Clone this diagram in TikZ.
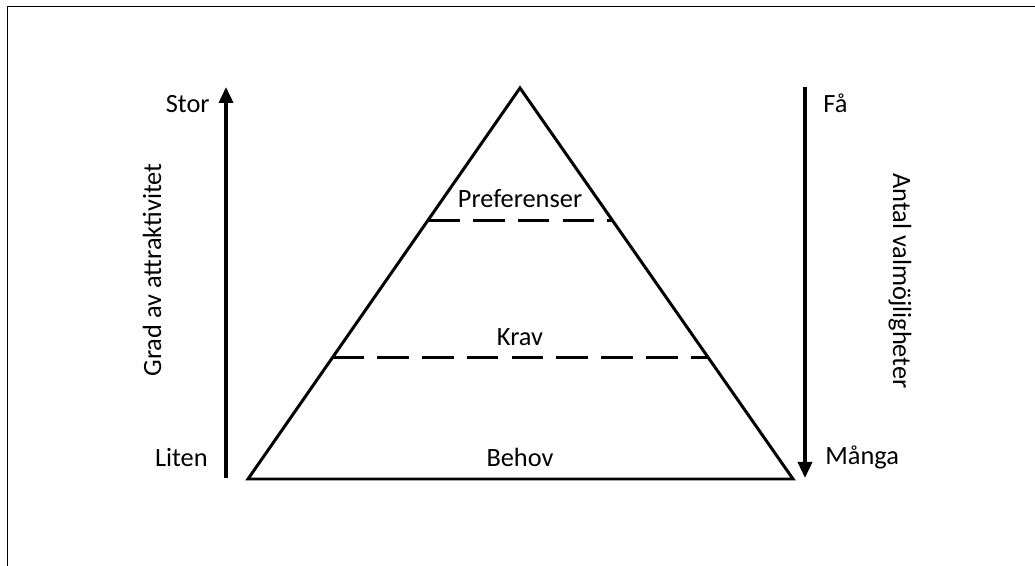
\documentclass[tikz,border=0pt]{standalone}
\usepackage{fontspec}
\setmainfont{Carlito}
\usetikzlibrary{arrows.meta,calc}
\begin{document}
\begin{tikzpicture}[
  font=\fontsize{15}{18}\selectfont,
  axisarr/.style={-{Triangle[length=0.32cm,width=0.28cm]}, line width=2pt},
  edge/.style={line width=1.7pt},
  level/.style={line width=1.7pt, dash pattern=on 18pt off 7.5pt},
  lbl/.style={inner sep=0pt},
]
\useasboundingbox (0,0) rectangle (20.7,11.32);

%% ── frame (cut off at right and bottom) ──────────────────────────
\draw[line width=1.1pt] (0.15,-0.5) -- (0.15,11.19) -- (21,11.19);

%% ═══ pyramid ════════════════════════════════════════════════════
\coordinate (apex) at (10.4,9.56);
\coordinate (bl)   at (4.96,1.74);
\coordinate (br)   at (15.86,1.74);
\draw[edge] (apex) -- (br) -- (bl) -- cycle;

% level borders
\draw[level] ($(apex)!0.338!(bl)$) -- ($(apex)!0.338!(br)$);
\draw[level] ($(apex)!0.69!(bl)$)  -- ($(apex)!0.69!(br)$);

\node[lbl] (pref)  at (10.4,7.34) {Preferenser};
\node[lbl] (krav)  at (10.4,4.58) {Krav};
\node[lbl] (behov) at (10.4,2.18) {Behov};

%% ═══ LEFT axis ══════════════════════════════════════════════════
\coordinate (ltop) at (4.52,9.58);
\coordinate (lbot) at (4.52,1.76);
\draw[axisarr] (lbot) -- (ltop);
\node[lbl, anchor=east] (stor)  at (4.2,9.24)  {Stor};
\node[lbl, anchor=east] (liten) at (4.16,2.16) {Liten};
\node[lbl, rotate=90]   (grad)  at (3.04,5.92) {Grad av attraktivitet};

%% ═══ RIGHT axis ═════════════════════════════════════════════════
\coordinate (rtop) at (16.1,9.58);
\coordinate (rbot) at (16.1,1.76);
\draw[axisarr] (rtop) -- (rbot);
\node[lbl, anchor=west] (fa)    at (16.46,9.26) {Få};
\node[lbl, anchor=west] (manga) at (16.5,2.18)  {Många};
\node[lbl, rotate=-90]  (antal) at (18.0,5.70)  {Antal valmöjligheter};

\end{tikzpicture}
\end{document}
